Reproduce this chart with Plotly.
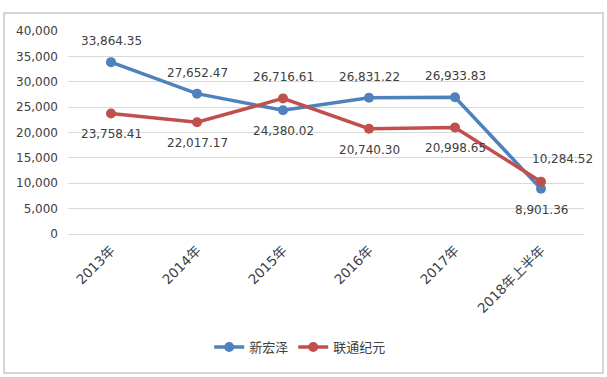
import plotly.graph_objects as go

categories = ["2013年", "2014年", "2015年", "2016年", "2017年", "2018年上半年"]
xinhongze = [33864.35, 27652.47, 24380.02, 26831.22, 26933.83, 8901.36]
liantong = [23758.41, 22017.17, 26716.61, 20740.30, 20998.65, 10284.52]
series_names = ["新宏泽", "联通纪元"]
colors = ["#4F81BD", "#C0504D"]

# label placement: +1 above, -1 below
blue_pos = [1, 1, -1, 1, 1, -1]
red_pos = [-1, -1, 1, -1, -1, 1]

FONT = "DejaVu Sans, Noto Sans CJK SC, sans-serif"
TXT = "#404040"

fig = go.Figure()
for name, vals, col in zip(series_names, [xinhongze, liantong], colors):
    fig.add_trace(go.Scatter(
        x=categories, y=vals, name=name, mode="lines+markers",
        line=dict(color=col, width=3.5),
        marker=dict(color=col, size=10),
    ))

annotations = []
for vals, pos, sid in [(xinhongze, blue_pos, 0), (liantong, red_pos, 1)]:
    for i, (c, v, p) in enumerate(zip(categories, vals, pos)):
        xs = 0
        ys = 21 * p
        if sid == 1 and i == 5:
            xs = 21
            ys = 23
        annotations.append(dict(
            x=c, y=v, text=f"{v:,.2f}", showarrow=False,
            xshift=xs, yshift=ys,
            font=dict(family=FONT, size=12, color=TXT),
        ))

fig.update_layout(
    width=607, height=377,
    margin=dict(l=68, r=23, t=31, b=143, autoexpand=False),
    paper_bgcolor="white", plot_bgcolor="white",
    font=dict(family=FONT, size=12, color=TXT),
    annotations=annotations,
    showlegend=True,
    legend=dict(orientation="h", x=0.45, xanchor="center", y=-0.557, yanchor="middle",
                font=dict(family="Noto Sans CJK SC, sans-serif", size=13, color=TXT),
                itemwidth=30),
    shapes=[dict(type="rect", xref="paper", yref="paper",
                 x0=-0.124, x1=1.0368, y0=-0.685, y1=1.0887,
                 line=dict(color="#c8c8c8", width=1.5), layer="above")],
)
fig.update_xaxes(range=[-0.5, 5.5], showgrid=False, showline=False, ticks="", tickangle=-45,
                 ticklabelstandoff=5,
                 tickfont=dict(family=FONT, size=13.5, color=TXT))
fig.update_yaxes(range=[0, 40000], dtick=5000, tickformat=",", showgrid=True,
                 gridcolor="#d9d9d9", gridwidth=1, zeroline=True, zerolinecolor="#d9d9d9",
                 zerolinewidth=1, showline=False, ticks="", ticklen=0, ticklabelstandoff=9,
                 tickfont=dict(family=FONT, size=12, color=TXT))

fig.write_html("out.html", config={"displayModeBar": False},
               post_script="document.body.style.margin='0';")
